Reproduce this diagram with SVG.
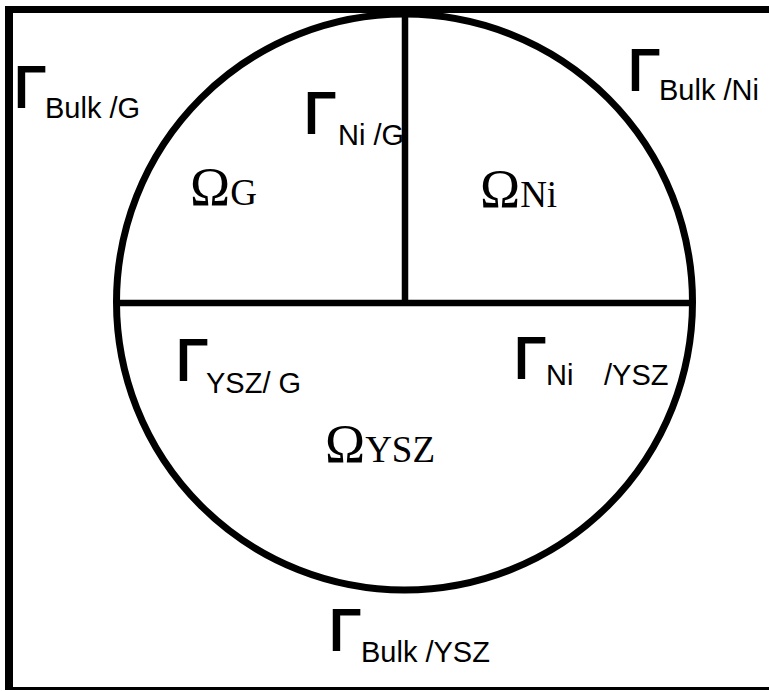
<svg xmlns="http://www.w3.org/2000/svg" width="769" height="691" viewBox="0 0 769 691">
<style>
.ln{stroke:#000;fill:none}
.gam{font-family:"Liberation Sans",Arial,sans-serif;font-size:58px;fill:#000;stroke:#000;stroke-width:2}
.sub{font-family:"Liberation Sans",Arial,sans-serif;font-size:29px;fill:#000}
.om{font-family:"Liberation Serif","Times New Roman",serif;font-size:54px;fill:#000}
.om tspan.s{font-size:37px}
</style>
<rect width="769" height="691" fill="#fff"/>
<g id="frame">
<line class="ln" x1="5" y1="9.5" x2="769" y2="9.5" stroke-width="7"/>
<line class="ln" x1="9" y1="6" x2="9" y2="690" stroke-width="8"/>
<line class="ln" x1="5" y1="688.5" x2="769" y2="688.5" stroke-width="3"/>
</g>
<g id="connectors">
<circle class="ln" cx="404.5" cy="302" r="288" stroke-width="7"/>
<line class="ln" x1="116" y1="303" x2="690" y2="303" stroke-width="6.5"/>
<line class="ln" x1="405" y1="12" x2="405" y2="303" stroke-width="6.5"/>
</g>
<g id="omega-G"><text class="om" x="190" y="205">Ω<tspan class="s">G</tspan></text></g>
<g id="omega-Ni"><text class="om" x="480" y="207">Ω<tspan class="s">Ni</tspan></text></g>
<g id="omega-YSZ"><text class="om" x="325" y="462">Ω<tspan class="s">YSZ</tspan></text></g>
<g id="gamma-bulk-G"><text class="gam" x="14" y="107">Γ</text><text class="sub" x="45" y="118">Bulk /G</text></g>
<g id="gamma-Ni-G"><text class="gam" x="304" y="133">Γ</text><text class="sub" x="338" y="145">Ni /G</text></g>
<g id="gamma-bulk-Ni"><text class="gam" x="628" y="90">Γ</text><text class="sub" x="659" y="100">Bulk /Ni</text></g>
<g id="gamma-YSZ-G"><text class="gam" x="176" y="380">Γ</text><text class="sub" x="206" y="393">YSZ/ G</text></g>
<g id="gamma-Ni-YSZ"><text class="gam" x="514" y="378">Γ</text><text class="sub" x="546" y="385">Ni <tspan x="604">/YSZ</tspan></text></g>
<g id="gamma-bulk-YSZ"><text class="gam" x="329" y="650">Γ</text><text class="sub" x="361" y="662">Bulk /YSZ</text></g>
</svg>
